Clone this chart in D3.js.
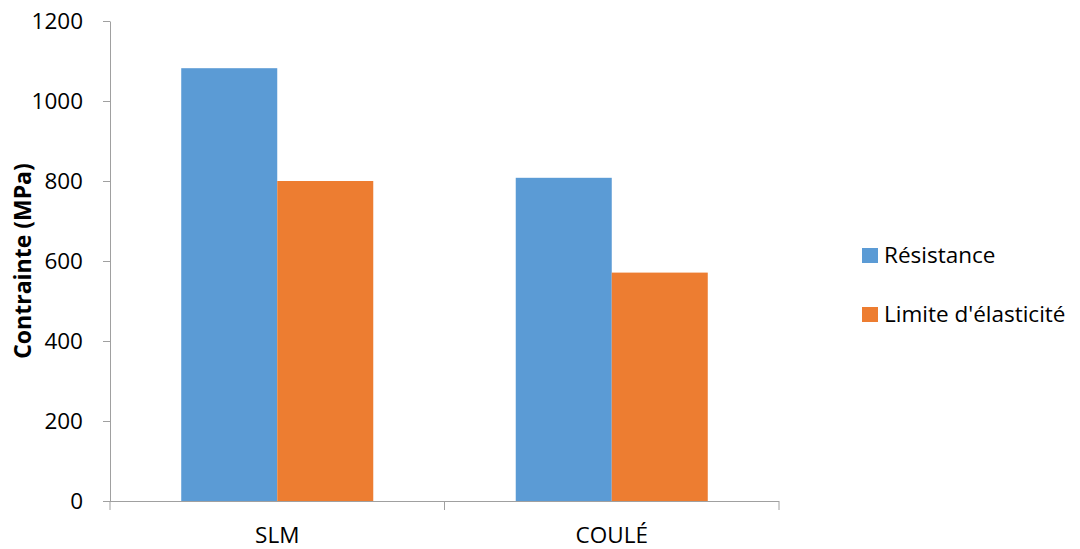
<!DOCTYPE html>
<html>
<head>
<meta charset="utf-8">
<script src="https://cdn.jsdelivr.net/npm/d3@7"></script>
<style>
  html, body { margin: 0; padding: 0; background: #fff; }
  svg { display: block; font-family: "Open Sans", sans-serif; }
</style>
</head>
<body>
<svg id="chart" width="1080" height="549"></svg>
<script>
const categories = ["SLM", "COULÉ"];
const seriesNames = ["Résistance", "Limite d'élasticité"];
const resistance = [1082, 808];
const limiteElasticite = [800, 571];
const yTicks = [0, 200, 400, 600, 800, 1000, 1200];
const colors = ["#5b9bd5", "#ed7d31"];
const yLabel = "Contrainte (MPa)";

const seriesValues = [resistance, limiteElasticite];
const svg = d3.select("#chart");

const x0 = d3.scaleBand().domain(categories).range([110, 779]).padding(0);
const x1 = d3.scaleBand().domain(seriesNames).range([0, x0.bandwidth()])
  .paddingInner(0).paddingOuter(0.742);
const y = d3.scaleLinear().domain([0, 1200]).range([501, 21]);

const axisColor = "#a0a0a0";
const fontSize = 22.5;

// Y axis
const yAxis = svg.append("g").attr("transform", "translate(110,0)")
  .call(d3.axisLeft(y).tickValues(yTicks).tickFormat(d3.format("d"))
    .tickSize(7).tickPadding(20).tickSizeOuter(0));
yAxis.select(".domain").attr("stroke", axisColor);
yAxis.selectAll(".tick line").attr("stroke", axisColor);
yAxis.selectAll(".tick text").attr("fill", "#000").style("font-size", fontSize + "px")
  .style("font-family", "'Open Sans', sans-serif");

// Bars
const groups = svg.append("g").selectAll("g").data(categories).join("g")
  .attr("transform", d => `translate(${x0(d)},0)`);
groups.selectAll("rect")
  .data((c, ci) => seriesNames.map((s, si) => ({ s, si, v: seriesValues[si][ci] })))
  .join("rect")
  .attr("x", d => x1(d.s))
  .attr("width", x1.bandwidth())
  .attr("y", d => y(d.v))
  .attr("height", d => y(0) - y(d.v))
  .attr("fill", d => colors[d.si]);

// X axis
const xAxis = svg.append("g").attr("transform", `translate(0,${y(0)})`)
  .call(d3.axisBottom(x0).tickSize(0).tickPadding(26));
xAxis.select(".domain").remove();
xAxis.selectAll(".tick text").attr("fill", "#000").style("font-size", fontSize + "px")
  .style("font-family", "'Open Sans', sans-serif");
xAxis.append("line").attr("x1", x0.range()[0]).attr("x2", x0.range()[1])
  .attr("y1", 0.5).attr("y2", 0.5).attr("stroke", axisColor);
const boundaries = categories.map(c => x0(c)).concat([x0.range()[1]]);
xAxis.selectAll(".bnd").data(boundaries).join("line").attr("class", "bnd")
  .attr("x1", d => d).attr("x2", d => d).attr("y1", 0).attr("y2", 9)
  .attr("stroke", axisColor);

// Y label
svg.append("text")
  .attr("transform", `translate(31,${(y(0) + y(1200)) / 2}) rotate(-90)`)
  .attr("text-anchor", "middle")
  .style("font-size", "23px").style("font-weight", "bold")
  .attr("fill", "#000")
  .text(yLabel);

// Legend
const legend = svg.append("g").attr("transform", "translate(862,248)");
const li = legend.selectAll("g").data(seriesNames).join("g")
  .attr("transform", (d, i) => `translate(0,${i * 59})`);
li.append("rect").attr("width", 16).attr("height", 15).attr("fill", (d, i) => colors[i]);
li.append("text").attr("x", 22).attr("y", 14.5)
  .style("font-size", fontSize + "px").attr("fill", "#000").text(d => d);
</script>
</body>
</html>
